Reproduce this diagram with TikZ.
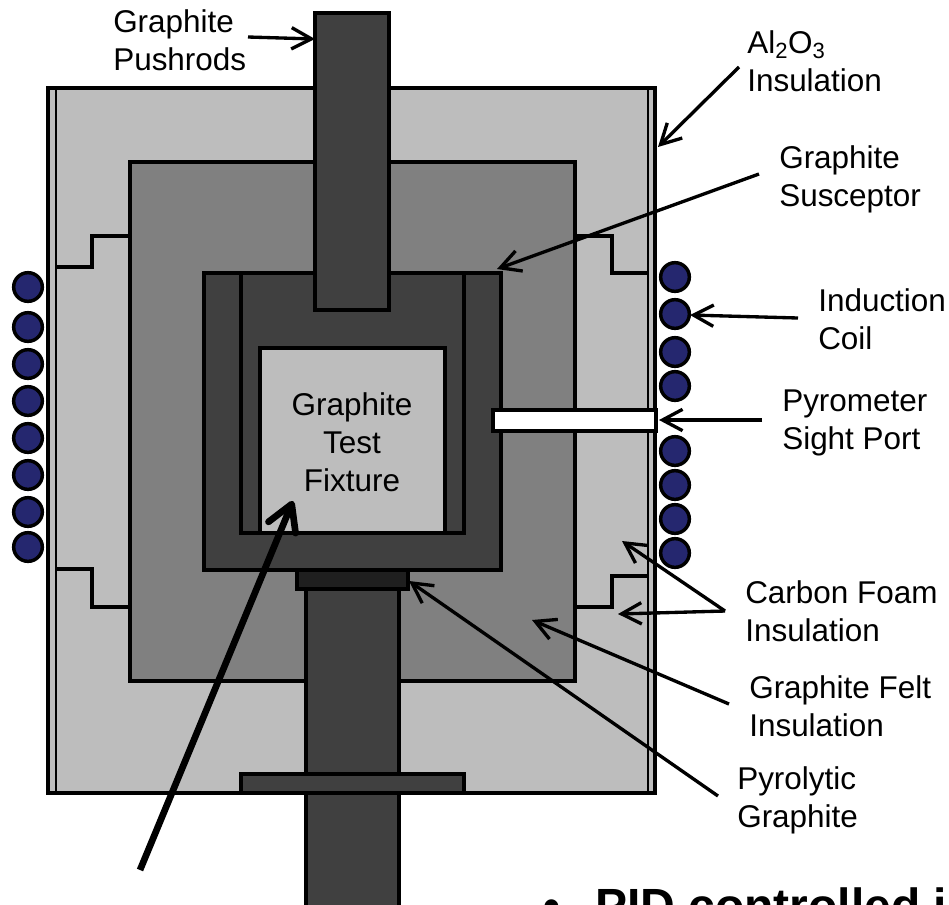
\documentclass[tikz,border=0pt]{standalone}
\usepackage{fontspec}
\setmainfont{Liberation Sans}
\usepackage{tikz}
\usetikzlibrary{arrows.meta}

\definecolor{foamgray}{HTML}{BDBDBD}
\definecolor{feltgray}{HTML}{808080}
\definecolor{rodgray}{HTML}{404040}
\definecolor{pyrogray}{HTML}{1F1F1F}
\definecolor{coilblue}{HTML}{25276F}

\begin{document}
\begin{tikzpicture}[
    x=0.75pt, y=-0.75pt,
    part/.style={draw=black, line width=2.6pt, line join=miter},
    coil/.style={circle, draw=black, fill=coilblue, line width=2.6pt, minimum size=21.5pt, inner sep=0pt},
    lbl/.style={font=\fontsize{23.6}{28.5}\selectfont, align=left, anchor=north west, inner sep=0pt},
    lead/.style={line width=2.5pt, -{Straight Barb[length=15pt, width=16pt, line width=2.5pt]}},
    ]
  \useasboundingbox (0,0) rectangle (949,904);

  % furnace body
  \draw[part, fill=foamgray] (48,88) rectangle (655,793);
  \draw[part, line width=2pt] (56,88) -- (56,793);
  \draw[part, line width=2pt] (648,88) -- (648,793);
  \draw[part, fill=feltgray] (130,162) rectangle (575,681);
  \draw[part] (56,267) -- (92,267) -- (92,236) -- (130,236);
  \draw[part] (575,236) -- (612,236) -- (612,273) -- (648,273);
  \draw[part] (56,569) -- (92,569) -- (92,607) -- (130,607);
  \draw[part] (575,607) -- (612,607) -- (612,576) -- (648,576);

  % susceptor and rods
  \draw[part, fill=rodgray] (204,273) rectangle (501,570);
  \draw[part] (241,273) -- (241,533) -- (464,533) -- (464,273);
  \draw[part, fill=foamgray] (260,348) rectangle (445,533);
  \draw[part, fill=rodgray] (306,589) rectangle (399,910);
  \draw[part, fill=pyrogray] (297,570) rectangle (408,589);
  \draw[part, fill=rodgray] (241,774) rectangle (464,793);
  \draw[part, fill=rodgray] (315,13) rectangle (389,310);
  \draw[part, fill=white] (493,410) rectangle (656,431);

  % coil turns
  \foreach \i/\y in {1/287,2/327,3/364,4/401,5/438,6/475,7/512,8/547}
    \node[coil] (left\i) at (28,\y) {};
  \foreach \i/\y in {1/277,2/314,3/352,4/386,5/451,6/485,7/519,8/553}
    \node[coil] (right\i) at (675,\y) {};

  % labels
  \node[lbl] (pushrods) at (113,9) {Graphite\\Pushrods};
  \node[lbl] (alumina) at (747,30) {Al\textsubscript{2}O\textsubscript{3}\\Insulation};
  \node[lbl] (susceptor) at (779,145) {Graphite\\Susceptor};
  \node[lbl] (induction) at (818,288) {Induction\\Coil};
  \node[lbl] (pyrometer) at (782,390) {Pyrometer\\Sight Port};
  \node[lbl] (foam) at (745,580) {Carbon Foam\\Insulation};
  \node[lbl] (felt) at (749,675) {Graphite Felt\\Insulation};
  \node[lbl] (pyrolytic) at (737,766) {Pyrolytic\\Graphite};
  \node[font=\fontsize{23.6}{28.5}\selectfont, align=center, inner sep=0pt] (fixture) at (352,442) {Graphite\\Test\\Fixture};
  \begin{scope}
    \clip (0,0) rectangle (949,904);
    \node[font=\fontsize{36}{43}\selectfont\bfseries, anchor=base west, inner sep=0pt] (bullet) at (543,922) {•};
    \node[font=\fontsize{36}{43}\selectfont\bfseries, anchor=base west, inner sep=0pt] (pid) at (595,922) {PID controlled in};
  \end{scope}

  % leader ends
  \coordinate (pushrodsTail) at (248,37);
  \coordinate (pushrodsTip) at (315,39);
  \coordinate (aluminaTail) at (739,67);
  \coordinate (aluminaTip) at (658,147);
  \coordinate (susceptorTail) at (759,174);
  \coordinate (susceptorTip) at (497,269);
  \coordinate (inductionTail) at (798,318);
  \coordinate (inductionTip) at (690,315);
  \coordinate (pyrometerTail) at (762,420);
  \coordinate (pyrometerTip) at (659,420);
  \coordinate (foamTail) at (725,611);
  \coordinate (foamTipA) at (622,541);
  \coordinate (foamTipB) at (618,614);
  \coordinate (feltTail) at (729,704);
  \coordinate (feltTip) at (532,620);
  \coordinate (pyrolyticTail) at (718,796);
  \coordinate (pyrolyticTip) at (409,581);
  \coordinate (fixtureTail) at (140,870);
  \coordinate (fixtureTip) at (293,501);

  \draw[lead] (pushrodsTail) -- (pushrodsTip);
  \draw[lead] (aluminaTail) -- (aluminaTip);
  \draw[lead] (susceptorTail) -- (susceptorTip);
  \draw[lead] (inductionTail) -- (inductionTip);
  \draw[lead] (pyrometerTail) -- (pyrometerTip);
  \draw[lead] (foamTail) -- (foamTipA);
  \draw[lead] (foamTail) -- (foamTipB);
  \draw[lead] (feltTail) -- (feltTip);
  \draw[lead] (pyrolyticTail) -- (pyrolyticTip);
  \draw[line width=5pt, -{Straight Barb[round, length=19pt, width=22pt, line width=5pt]}] (fixtureTail) -- (fixtureTip);
\end{tikzpicture}
\end{document}
